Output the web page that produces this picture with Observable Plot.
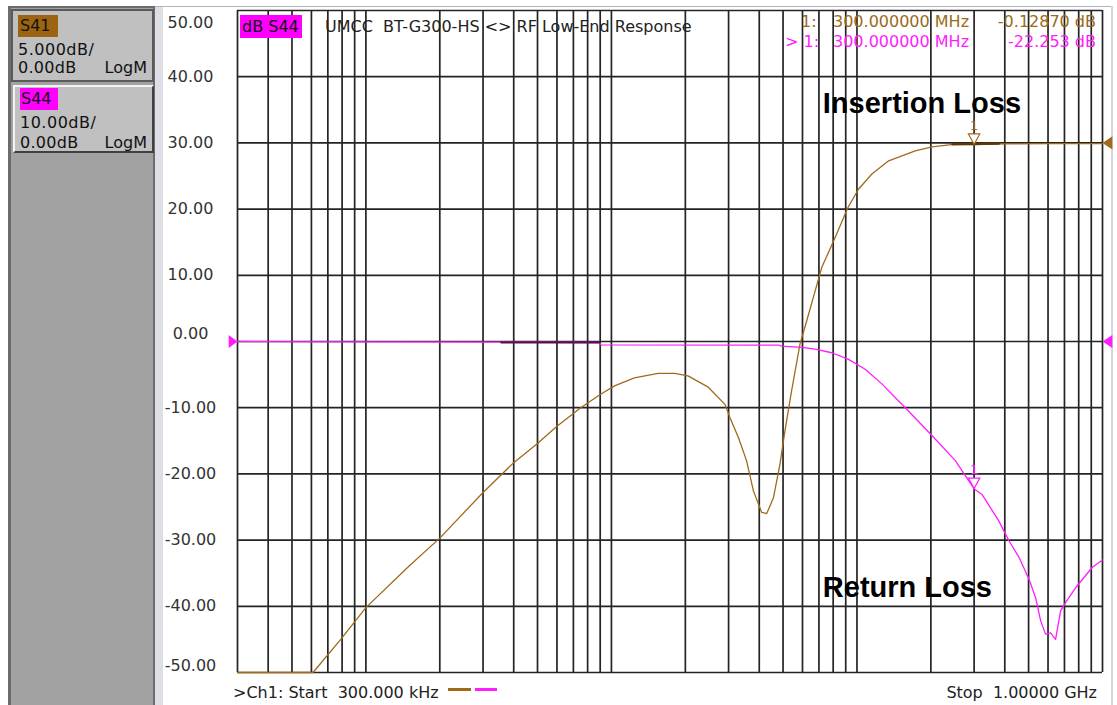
<!DOCTYPE html>
<html><head><meta charset="utf-8">
<script src="https://cdn.jsdelivr.net/npm/d3@7"></script>
<script src="https://cdn.jsdelivr.net/npm/@observablehq/plot@0.6"></script>
<style>
body{margin:0;background:#fff;}
#wrap{position:relative;width:1117px;height:705px;overflow:hidden;font-family:"DejaVu Sans",sans-serif;background:#fff;}
#chart{position:absolute;left:0;top:0;}
.a{position:absolute;box-sizing:border-box;}
.t{position:absolute;white-space:pre;font-size:16px;line-height:16px;color:#111;}
</style></head><body>
<div id="wrap">
  <div class="a" style="left:8px;top:6px;width:147px;height:699px;background:#a2a2a2;border-left:3px solid #6c6c6c;border-top:2px solid #6c6c6c;border-right:2px solid #6c6c6c"></div>
  <div class="a" style="left:155px;top:6px;width:8px;height:699px;background:#dedee6"></div>
  <div class="a" style="left:155px;top:6px;width:958px;height:1px;background:#b4b4b8"></div>
  <div class="a" style="left:1111px;top:6px;width:2px;height:699px;background:#d6d6de"></div>
  <div id="box1" class="a" style="left:11px;top:9px;width:143px;height:73px;background:#c0c0c0;border:2px solid #5a5a5a"></div>
  <div id="box2" class="a" style="left:13px;top:85px;width:141px;height:68px;background:#c0c0c0;border-top:2px solid #f4f4f4;border-left:2px solid #f4f4f4;border-bottom:2px solid #404040;border-right:2px solid #404040"></div>
  <div id="chart"></div>
  <div id="overlay"></div>
</div>
<script>
// ---------------- data ----------------
const traceNames = ["S41", "S44"];
const traceScales = ["5.000dB/", "10.00dB/"];
const traceRefs = ["0.00dB", "0.00dB"];
const traceFormats = ["LogM", "LogM"];

// x grid (MHz): 300 kHz .. 1 GHz, log decades
const xGridMHz = [0.3,0.4,0.5,0.6,0.7,0.8,0.9,1,2,3,4,5,6,7,8,9,10,20,30,40,50,60,70,80,90,100,200,300,400,500,600,700,800,900,1000];
// y ticks (dB, S44 scale)
const yTicks = [50,40,30,20,10,0,-10,-20,-30,-40,-50];

// S41 trace (insertion loss) as displayed on the screen grid
const s41Freq = [0.3,0.45,0.609,0.79,1.0,1.5,2.0,3.0,4.0,5.0,6.0,7.5,9.0,10.3,12.4,15.5,18.1,20.5,24.8,29.0,30.4,32.9,35.5,37.9,40.9,42.9,45.7,48.6,50.9,54.2,58.6,62.4,71.9,81.5,91.8,101.4,115,134.6,172.7,202,251.9,300,400,600,1000];
const s41Db   = [-50,-50,-50,-45.0,-40.2,-33.9,-29.7,-22.8,-18.3,-15.4,-12.8,-10.0,-8.0,-6.7,-5.5,-4.8,-4.8,-5.2,-6.9,-9.5,-11.5,-14.5,-18.0,-22.6,-25.8,-26.0,-23.6,-18.5,-13.5,-7.4,-0.4,3.1,11.2,15.7,20.2,23.0,25.3,27.3,28.8,29.4,29.8,29.74,29.85,29.9,29.9];

// S44 trace (return loss)
const s44Freq = [0.3,3.56,8.98,9.05,47.9,49.4,59.6,67.5,79,92.4,108,126.3,157.3,202,251.6,300,323,378,416,457,502,534,560,586,614,644,675,708,777,909,1000];
const s44Db   = [0,-0.1,-0.15,-0.5,-0.55,-0.7,-0.9,-1.15,-1.7,-2.7,-4.2,-6.4,-10.0,-14.2,-18.0,-22.25,-23.1,-27.1,-30.1,-32.6,-35.9,-38.7,-42.2,-44.2,-44.0,-45.0,-40.7,-39.4,-37.2,-34.1,-33.0];

// darker overlapped segments on the traces
const s41DarkFreq = [245, 378];
const s41DarkDb = [29.8, 29.9];
const s44DarkFreq = [3.56, 8.98];
const s44DarkDb = [-0.15, -0.15];

// marker 1
const markerFreqMHz = 300;
const markerS41Db = 29.74;   // displayed position of -0.12870 dB on S41 scale
const markerS44Db = -22.25;
const markerReadFreq = "300.000000 MHz";
const markerReadVals = ["-0.12870 dB", "-22.253 dB"];

// reference-level positions (display grid) for each trace
const refLevelS41 = 30;
const refLevelS44 = 0;

// annotations
const annText = ["Insertion Loss", "Return Loss"];
const annFreq = [72.6, 72.6];
const annDb = [35.9, -37.2];

const titleText = "UMCC  BT-G300-HS <> RF Low-End Response";
const activeLabel = "dB S44";
const startText = ">Ch1: Start  300.000 kHz";
const stopText = "Stop  1.00000 GHz";

// ---------------- build ----------------
const BROWN = "#a06a1c", BROWN_T = "#9a6a18", MAG = "#ff1cff", GRID = "#242424";
const s41 = s41Freq.map((f,i)=>({f, db:s41Db[i]}));
const s44 = s44Freq.map((f,i)=>({f, db:s44Db[i]}));
const s41Dark = s41DarkFreq.map((f,i)=>({f, db:s41DarkDb[i]}));
const s44Dark = s44DarkFreq.map((f,i)=>({f, db:s44DarkDb[i]}));
const markers = [{f:markerFreqMHz, db:markerS41Db, c:BROWN}, {f:markerFreqMHz, db:markerS44Db, c:MAG}];
const anns = annText.map((t,i)=>({t, f:annFreq[i], db:annDb[i]}));

const triDown = {draw(ctx, size){const a=Math.sqrt(size/Math.PI); ctx.moveTo(-1.1*a,-a); ctx.lineTo(1.1*a,-a); ctx.lineTo(0,a); ctx.closePath();}};
const triRight = {draw(ctx, size){const a=Math.sqrt(size/Math.PI); ctx.moveTo(0,0); ctx.lineTo(-1.6*a,-1.2*a); ctx.lineTo(-1.6*a,1.2*a); ctx.closePath();}};
const triLeft = {draw(ctx, size){const a=Math.sqrt(size/Math.PI); ctx.moveTo(0,0); ctx.lineTo(1.8*a,-1.2*a); ctx.lineTo(1.8*a,1.2*a); ctx.closePath();}};

const domainX = [xGridMHz[0], xGridMHz[xGridMHz.length-1]];
const tickFmt = d => d.toFixed(2);
const labelCommon = {y: d=>d, text: tickFmt, frameAnchor:"left", dx:-47, textAnchor:"middle", fontSize:16, fill:"#333", fontFamily:"DejaVu Sans"};

const chart = Plot.plot({
  width: 1117, height: 705,
  marginLeft: 237, marginRight: 15, marginTop: 10, marginBottom: 33,
  x: {type:"log", domain: domainX, axis: null},
  y: {domain: [yTicks[yTicks.length-1], yTicks[0]], axis: null},
  style: {background:"transparent", fontFamily:"DejaVu Sans"},
  marks: [
    Plot.ruleX(xGridMHz, {stroke: GRID, strokeWidth: 1.7}),
    Plot.ruleY(yTicks, {stroke: GRID, strokeWidth: 1.7}),
    Plot.text(yTicks.filter(d=>d!==yTicks[0] && d!==0 && d!==yTicks[yTicks.length-1]), labelCommon),
    Plot.text([yTicks[0]], {...labelCommon, dy: 12}),
    Plot.text([0], {...labelCommon, dy: -8}),
    Plot.text([yTicks[yTicks.length-1]], {...labelCommon, dy: -7}),
    Plot.line(s44, {x:"f", y:"db", stroke: MAG, strokeWidth: 1.3}),
    Plot.line(s44Dark, {x:"f", y:"db", stroke: "#5a1050", strokeWidth: 2.2}),
    Plot.line(s41, {x:"f", y:"db", stroke: BROWN, strokeWidth: 1.3}),
    Plot.line(s41Dark, {x:"f", y:"db", stroke: "#5a3a08", strokeWidth: 2.4}),
    Plot.dot(markers, {x:"f", y:"db", symbol: triDown, r: 5.2, stroke: "c", fill: "white", strokeWidth: 1.2, dy: -5.5}),
    Plot.text(markers, {x:"f", y:"db", text: ()=>"1", fill: "c", dy: -19, fontSize: 13, fontFamily:"DejaVu Sans"}),
    Plot.dot([{f:domainX[0], db:refLevelS44}], {x:"f", y:"db", symbol: triRight, r: 5.5, fill: MAG, stroke: "none"}),
    Plot.dot([{f:domainX[1], db:refLevelS44}], {x:"f", y:"db", symbol: triLeft, r: 5.5, fill: MAG, stroke: "none"}),
    Plot.dot([{f:domainX[1], db:refLevelS41}], {x:"f", y:"db", symbol: triLeft, r: 5.5, fill: BROWN, stroke: "none"}),
    Plot.text(anns, {x:"f", y:"db", text:"t", textAnchor:"start", fontSize: 29, fontWeight:"bold", fontFamily:"Liberation Sans, Arial, sans-serif", fill:"#000"})
  ]
});
document.getElementById("chart").appendChild(chart);

// ---------------- HTML overlay texts ----------------
const ov = document.getElementById("overlay");
function add(html, style){ const d=document.createElement("div"); d.className="t"; d.textContent=html; Object.assign(d.style, style); ov.appendChild(d); return d; }
function box(style){ const d=document.createElement("div"); d.className="a"; Object.assign(d.style, style); ov.appendChild(d); return d; }

// left channel panel
box({left:"18px", top:"15px", width:"40px", height:"22px", background:"#9c6410"});
add(traceNames[0], {left:"20px", top:"18px", color:"#111"});
add(traceScales[0], {left:"18px", top:"42px", letterSpacing:"0.5px"});
add(traceRefs[0], {left:"18px", top:"60px", letterSpacing:"0.3px"});
add(traceFormats[0], {right:(1117-147)+"px", top:"60px"});
box({left:"20px", top:"88px", width:"38px", height:"22px", background:"#ff00ff"});
add(traceNames[1], {left:"21px", top:"91px", color:"#111"});
add(traceScales[1], {left:"20px", top:"115px", letterSpacing:"0.5px"});
add(traceRefs[1], {left:"20px", top:"135px", letterSpacing:"0.3px"});
add(traceFormats[1], {right:(1117-147)+"px", top:"135px"});

// header
box({left:"240px", top:"15px", width:"62px", height:"23px", background:"#ff00ff"});
add(activeLabel, {left:"242px", top:"19px", color:"#111"});
add(titleText, {left:"325px", top:"19px", color:"#222"});
add("1:", {left:"801px", top:"14px", color:BROWN_T});
add(markerReadFreq, {left:"833px", top:"14px", color:BROWN_T});
add(markerReadVals[0], {right:(1117-1096)+"px", top:"14px", color:BROWN_T});
add("> 1:", {left:"785px", top:"34px", color:MAG});
add(markerReadFreq, {left:"833px", top:"34px", color:MAG});
add(markerReadVals[1], {right:(1117-1096)+"px", top:"34px", color:MAG});

// footer
add(startText, {left:"233px", top:"685px", color:"#222"});
box({left:"448px", top:"688px", width:"23px", height:"3px", background:BROWN});
box({left:"475px", top:"688px", width:"22px", height:"3px", background:MAG});
add(stopText, {right:(1117-1097)+"px", top:"685px", color:"#222"});
</script>
</body></html>
